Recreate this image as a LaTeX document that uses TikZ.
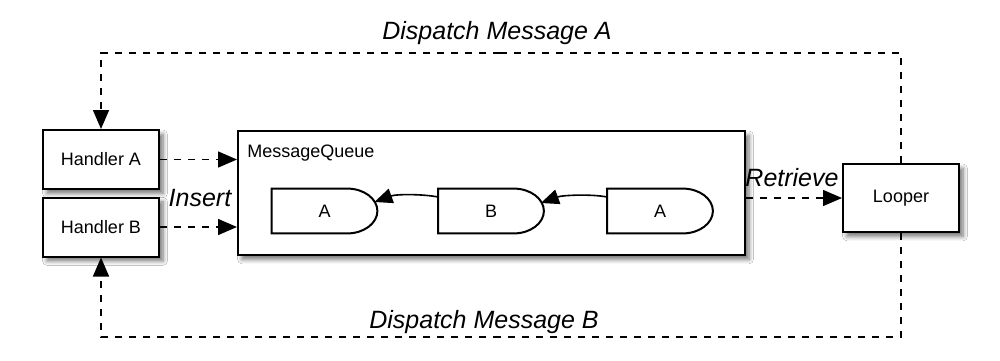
\documentclass[tikz,border=0pt]{standalone}
\usepackage{fontspec}
\setmainfont{Liberation Sans}
\usetikzlibrary{arrows.meta,shadows.blur,calc}
\begin{document}
\begin{tikzpicture}[x=0.5pt,y=-0.5pt,
  box/.style={draw=black, line width=1pt, fill=white, inner sep=0pt,
    font=\fontsize{9}{11}\selectfont,
    blur shadow={shadow xshift=2pt, shadow yshift=-2.2pt, shadow blur radius=2.2pt, shadow blur steps=6, shadow opacity=55}},
  handler/.style={box, minimum width=58pt, minimum height=29.5pt},
  item/.style={draw=none, inner sep=0pt, minimum width=52.5pt, minimum height=22pt, font=\fontsize{9}{11}\selectfont},
  itemline/.style={draw=black, line width=1pt},
  lbl/.style={font=\fontsize{12.5}{14}\selectfont\itshape, inner sep=0pt},
  darrow/.style={draw=black, line width=0.75pt, dash pattern=on 3.6pt off 3.4pt, -{Triangle[length=9.5pt,width=8pt]}},
  dline/.style={draw=black, line width=0.75pt, dash pattern=on 3.6pt off 3.4pt},
  qarrow/.style={draw=black, line width=0.8pt, -{Triangle[length=9pt,width=7.5pt]}}
]
\fill[white] (0,0) rectangle (1000,360);
\useasboundingbox (0,0) rectangle (1000,360);

% boxes
\node[handler] (ha) at (101,159.5) {Handler A};
\node[handler] (hb) at (101,227) {Handler B};
\node[box, minimum width=253.5pt, minimum height=62pt] (mq) at (491.5,193) {};
\node[box, minimum width=58pt, minimum height=34pt] (lp) at (901,198) {Looper};
\node[anchor=west, inner sep=0pt, font=\fontsize{9}{11}\selectfont] (mql) at (247,153) {MessageQueue};

% queue items
\node[item] (q1) at (324.5,211) {A};
\node[item] (q2) at (491,211) {B};
\node[item] (q3) at (660,211) {A};
\foreach \q in {q1,q2,q3}{
  \draw[itemline] (\q.north west) -- ($(\q.north east)+(-30,0)$)
    .. controls ($(\q.north east)+(-13.4,0)$) and ($(\q.east)+(0,-12.2)$) .. (\q.east)
    .. controls ($(\q.east)+(0,12.2)$) and ($(\q.south east)+(-13.4,0)$) .. ($(\q.south east)+(-30,0)$)
    -- (\q.south west) -- cycle;
}
\draw[qarrow] ($(q2.west)+(0,-14)$) .. controls +(-15,-3) and +(22,-8) .. ($(q1.east)+(-3,-9)$);
\draw[qarrow] ($(q3.west)+(0,-14)$) .. controls +(-15,-3) and +(22,-8) .. ($(q2.east)+(-3,-8)$);

% insert / retrieve
\draw[darrow] (ha.east) -- (ha.east -| mq.west);
\draw[darrow] (hb.east) -- (hb.east -| mq.west);
\draw[darrow] (lp.west -| mq.east) -- (lp.west);
\node[lbl] (ins) at (200,198) {Insert};
\node[lbl] (ret) at (792,178) {Retrieve};

% dispatch loops
\coordinate (topy) at (500,53);
\coordinate (boty) at (500,337);
\draw[dline] (lp.north) |- (topy);
\draw[darrow] (topy) -| (ha.north);
\draw[dline] (lp.south) |- (boty);
\draw[darrow] (boty) -| (hb.south);
\node[lbl] (dA) at (497,33) {Dispatch Message A};
\node[lbl] (dB) at (484,322) {Dispatch Message B};
\end{tikzpicture}
\end{document}
